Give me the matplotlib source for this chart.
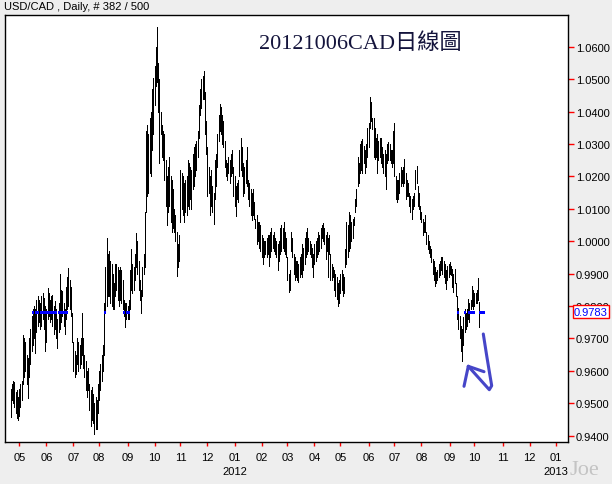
import numpy as np
import pandas as pd
import matplotlib
matplotlib.use("Agg")
import matplotlib.pyplot as plt
from matplotlib.lines import Line2D
from matplotlib.transforms import blended_transform_factory

# ---------------- data ----------------
title = "USD/CAD , Daily, # 382 / 500"
headline = "20121006CAD日線圖"
last_price = 0.9783
first_day = "2011-04-21"

bar_high = [
    .9544, .9560, .9570, .9565, .9535, .9540, .9520, .9545, .9560, .9570,
    .9710, .9700, .9690, .9650, .9640, .9700, .9730, .9770, .9790, .9800,
    .9790, .9820, .9830, .9820, .9810, .9830, .9840, .9825, .9800, .9790,
    .9855, .9840, .9820, .9830, .9835, .9800, .9815, .9790, .9760, .9810,
    .9900, .9850, .9845, .9810, .9790, .9860, .9890, .9916, .9880, .9860,
    .9780, .9690, .9660, .9650, .9700, .9690, .9680, .9700, .9780, .9700,
    .9650, .9630, .9600, .9610, .9560, .9540, .9550, .9530, .9500, .9520,
    .9510, .9560, .9600, .9620, .9650, .9680, .9810, .9920, 1.0010, .9960,
    .9970, .9940, .9930, .9900, .9870, .9930, .9930, .9920, .9910, .9920,
    .9910, .9880, .9820, .9810, .9810, .9800, .9820, .9910, .9975, .9930,
    .9920, .9960, 1.0025, 1.0000, .9940, .9880, .9850, .9920, .9960, 1.0090,
    1.0340, 1.0360, 1.0330, 1.0380, 1.0400, 1.0470, 1.0505, 1.0540, 1.0600, 1.0660,
    1.0550, 1.0500, 1.0400, 1.0360, 1.0340, 1.0330, 1.0250, 1.0200, 1.0230, 1.0260,
    1.0200, 1.0190, 1.0160, 1.0100, 1.0080, 1.0030, .9990, 1.0020, 1.0220, 1.0210,
    1.0200, 1.0180, 1.0190, 1.0200, 1.0250, 1.0240, 1.0230, 1.0220, 1.0270, 1.0290,
    1.0300, 1.0310, 1.0340, 1.0420, 1.0470, 1.0500, 1.0510, 1.0526, 1.0460, 1.0370,
    1.0290, 1.0230, 1.0200, 1.0220, 1.0170, 1.0150, 1.0250, 1.0270, 1.0330, 1.0390,
    1.0423, 1.0415, 1.0390, 1.0370, 1.0310, 1.0250, 1.0240, 1.0260, 1.0250, 1.0270,
    1.0280, 1.0230, 1.0200, 1.0170, 1.0180, 1.0190, 1.0280, 1.0320, 1.0290, 1.0240,
    1.0230, 1.0250, 1.0290, 1.0190, 1.0180, 1.0160, 1.0150, 1.0160, 1.0120, 1.0070,
    1.0080, 1.0060, 1.0060, 1.0050, 1.0020, 1.0010, 1.0000, 1.0000, 1.0010, 1.0020,
    1.0020, 1.0030, 1.0040, 1.0020, 1.0030, 1.0010, 1.0000, .9990, 1.0000, 1.0040,
    1.0050, 1.0040, 1.0060, 1.0030, 1.0010, .9950, .9900, .9910, 1.0030, 1.0010,
    .9960, .9950, .9940, .9940, .9930, .9950, .9960, .9990, .9980, 1.0010,
    1.0030, 1.0040, 1.0010, 1.0000, .9990, .9980, .9960, .9990, 1.0000, 1.0010,
    1.0030, 1.0020, 1.0040, 1.0050, 1.0056, 1.0040, 1.0020, 1.0030, 1.0010, 1.0020,
    .9960, .9930, .9920, .9910, .9900, .9890, .9870, .9880, .9900, .9910,
    .9900, .9890, .9975, 1.0060, 1.0050, 1.0090, 1.0080, 1.0060, 1.0070, 1.0075,
    1.0130, 1.0160, 1.0260, 1.0240, 1.0300, 1.0310, 1.0315, 1.0295, 1.0280, 1.0300,
    1.0350, 1.0366, 1.0446, 1.0430, 1.0380, 1.0380, 1.0350, 1.0320, 1.0330, 1.0310,
    1.0320, 1.0320, 1.0290, 1.0270, 1.0280, 1.0270, 1.0300, 1.0305, 1.0300, 1.0280,
    1.0280, 1.0340, 1.0366, 1.0200, 1.0190, 1.0190, 1.0210, 1.0230, 1.0220, 1.0230,
    1.0253, 1.0210, 1.0190, 1.0180, 1.0150, 1.0140, 1.0130, 1.0140, 1.0150, 1.0220,
    1.0233, 1.0170, 1.0150, 1.0110, 1.0090, 1.0070, 1.0060, 1.0080, 1.0030, 1.0020,
    1.0000, .9985, .9975, .9945, .9940, .9920, .9905, .9910, .9930, .9940,
    .9950, .9950, .9940, .9930, .9910, .9925, .9930, .9935, .9925, .9915,
    .9900, .9915, .9870, .9830, .9795, .9770, .9740, .9730, .9765, .9790,
    .9780, .9790, .9822, .9810, .9820, .9863, .9850, .9840, .9840, .9850,
    .9888, .9812,
]

bar_low = [
    .9457, .9510, .9500, .9490, .9470, .9455, .9448, .9460, .9490, .9510,
    .9560, .9580, .9600, .9560, .9515, .9580, .9620, .9660, .9680, .9700,
    .9655, .9720, .9740, .9750, .9730, .9740, .9760, .9730, .9660, .9690,
    .9760, .9770, .9750, .9760, .9740, .9715, .9730, .9700, .9670, .9720,
    .9730, .9750, .9770, .9740, .9715, .9760, .9790, .9800, .9790, .9770,
    .9690, .9600, .9580, .9590, .9620, .9600, .9610, .9620, .9650, .9610,
    .9580, .9540, .9520, .9540, .9480, .9430, .9450, .9440, .9405, .9420,
    .9420, .9470, .9510, .9540, .9570, .9600, .9650, .9780, .9800, .9830,
    .9830, .9810, .9800, .9790, .9790, .9830, .9850, .9820, .9800, .9820,
    .9810, .9790, .9770, .9735, .9760, .9760, .9760, .9790, .9850, .9840,
    .9850, .9880, .9920, .9900, .9850, .9820, .9780, .9830, .9900, .9920,
    1.0090, 1.0140, 1.0150, 1.0210, 1.0200, 1.0280, 1.0330, 1.0420, 1.0480, 1.0490,
    1.0400, 1.0240, 1.0330, 1.0260, 1.0250, 1.0190, 1.0110, 1.0050, 1.0090, 1.0110,
    1.0060, 1.0030, 1.0040, 1.0030, 1.0000, .9894, .9920, .9940, 1.0060, 1.0100,
    1.0080, 1.0060, 1.0090, 1.0080, 1.0110, 1.0100, 1.0130, 1.0100, 1.0160, 1.0170,
    1.0200, 1.0220, 1.0260, 1.0320, 1.0390, 1.0410, 1.0440, 1.0440, 1.0330, 1.0270,
    1.0140, 1.0150, 1.0080, 1.0110, 1.0090, 1.0053, 1.0130, 1.0170, 1.0230, 1.0310,
    1.0340, 1.0330, 1.0300, 1.0290, 1.0230, 1.0200, 1.0190, 1.0210, 1.0180, 1.0200,
    1.0210, 1.0140, 1.0110, 1.0078, 1.0130, 1.0120, 1.0200, 1.0220, 1.0200, 1.0140,
    1.0150, 1.0180, 1.0170, 1.0130, 1.0110, 1.0080, 1.0065, 1.0080, 1.0070, 1.0040,
    .9990, 1.0000, .9980, .9970, .9950, .9930, .9950, .9960, .9950, .9960,
    .9925, .9950, .9970, .9980, .9970, .9960, .9950, .9910, .9940, .9960,
    .9970, .9980, .9970, .9960, .9950, .9880, .9844, .9850, .9970, .9950,
    .9900, .9880, .9890, .9880, .9875, .9890, .9900, .9890, .9910, .9930,
    .9950, .9960, .9970, .9960, .9950, .9920, .9890, .9930, .9940, .9950,
    .9960, .9970, .9980, 1.0010, 1.0000, .9990, .9945, .9970, .9890, .9960,
    .9880, .9880, .9890, .9850, .9830, .9822, .9801, .9810, .9840, .9850,
    .9830, .9840, .9920, .9930, .9950, .9970, .9980, 1.0000, 1.0010, 1.0050,
    1.0090, 1.0110, 1.0170, 1.0180, 1.0210, 1.0220, 1.0210, 1.0240, 1.0210, 1.0230,
    1.0260, 1.0290, 1.0350, 1.0370, 1.0345, 1.0260, 1.0255, 1.0260, 1.0210, 1.0250,
    1.0260, 1.0240, 1.0230, 1.0210, 1.0200, 1.0161, 1.0240, 1.0250, 1.0250, 1.0240,
    1.0230, 1.0240, 1.0200, 1.0130, 1.0120, 1.0130, 1.0150, 1.0170, 1.0180, 1.0170,
    1.0180, 1.0130, 1.0140, 1.0140, 1.0110, 1.0090, 1.0068, 1.0100, 1.0110, 1.0160,
    1.0180, 1.0110, 1.0100, 1.0070, 1.0060, 1.0020, 1.0027, 1.0030, .9990, .9976,
    .9965, .9950, .9935, .9900, .9880, .9863, .9870, .9880, .9890, .9895,
    .9910, .9900, .9890, .9870, .9852, .9880, .9890, .9900, .9895, .9860,
    .9842, .9870, .9830, .9760, .9730, .9700, .9660, .9631, .9680, .9720,
    .9730, .9740, .9760, .9750, .9790, .9800, .9790, .9800, .9810, .9810,
    .9820, .9734,
]

price_ticks = [0.94, 0.95, 0.96, 0.97, 0.98, 0.99, 1.00, 1.01, 1.02, 1.03, 1.04, 1.05, 1.06]
month_labels = ['05', '06', '07', '08', '09', '10', '11', '12', '01', '02', '03',
                '04', '05', '06', '07', '08', '09', '10', '11', '12', '01']
month_starts = pd.date_range('2011-05-01', '2013-01-01', freq='MS')
year_marks = {'2012': '2012-01-01', '2013': '2013-01-01'}

# ---------------- figure ----------------
W, H = 612, 485
BG = '#eeeeee'
FONT = ['Liberation Sans', 'DejaVu Sans']
plt.rcParams['font.family'] = FONT

fig = plt.figure(figsize=(W / 100, H / 100), dpi=100, facecolor=BG)
ax_l, ax_r, ax_t, ax_b = 5, 568, 16, 443
ax = fig.add_axes([ax_l / W, 1 - ax_b / H, (ax_r - ax_l) / W, (ax_b - ax_t) / H])
ax.set_facecolor('white')

calendar = pd.bdate_range(first_day, '2013-02-28')
x = np.arange(len(bar_high))

ax.vlines(x, bar_low, bar_high, colors='black', linewidth=0.7,
          antialiased=False, zorder=2)

# blue dashed price line (visible where the bars cross it)
cross = [i for i in x if bar_low[i] <= last_price <= bar_high[i]]
for i in cross[::2]:
    ax.hlines(last_price, i - 0.5, i + 0.5, colors='#0000ff', linewidth=0.8,
              antialiased=False, zorder=3)
ax.hlines(last_price, x[-1] - 8, x[-1] - 4, colors='#0000ff', linewidth=0.8,
          antialiased=False, zorder=3)
ax.hlines(last_price, x[-1], x[-1] + 4, colors='#0000ff', linewidth=0.8,
          antialiased=False, zorder=3)

ax.set_xlim(-4.6, 453.1)
ax.set_ylim(0.93806, 1.0698)

# right price axis
ax.yaxis.tick_right()
ax.set_yticks(price_ticks)
ax.set_yticklabels([f"{v:.4f}" for v in price_ticks])
ax.tick_params(axis='y', length=4, width=1, color='red', labelcolor='black',
               labelsize=8, pad=1.5)

# bottom month axis
month_pos = [calendar.searchsorted(d) for d in month_starts]
ax.set_xticks(month_pos)
ax.set_xticklabels(month_labels)
ax.tick_params(axis='x', length=3, width=1, color='red', labelcolor='black',
               labelsize=8, pad=4)

for s in ax.spines.values():
    s.set_color('black')
    s.set_linewidth(1.0)

# year labels
trans_xy = blended_transform_factory(ax.transData, fig.transFigure)
for lab, d in year_marks.items():
    pos = calendar.searchsorted(pd.Timestamp(d))
    ax.text(pos, 1 - 472.5 / H, lab, transform=trans_xy, ha='center',
            va='center', fontsize=8, color='black', clip_on=False)

# title
fig.text(4 / W, 1 - 7.5 / H, title, ha='left', va='center', fontsize=8,
         color='black')

# headline
fig.text(259 / W, 1 - 44 / H, headline, ha='left', va='center', fontsize=16,
         color='#14143c', family=['Liberation Serif', 'Noto Sans CJK TC'])

# last price box on the right axis (covers part of the 0.9800 label, as in the original)
trans_fy = blended_transform_factory(fig.transFigure, ax.transData)
ax.text(574 / W, last_price, f"{last_price:.4f}", transform=trans_fy,
        ha='left', va='center', fontsize=8, color='#0000ff', clip_on=False,
        bbox=dict(boxstyle='square,pad=0.12', fc='white', ec='red', lw=1.0),
        zorder=10)

# hand-drawn blue arrow (figure pixel coords)
def px(pts):
    return [p[0] / W for p in pts], [1 - p[1] / H for p in pts]

arrow_color = '#4646c8'
stroke = [(483.3, 335), (486.7, 356.7), (490, 376.7), (491.7, 386.7),
          (489.3, 390.7), (468.3, 367.3)]
head1 = [(468.3, 367.3), (464, 387.3)]
head2 = [(468.3, 367.3), (484, 372.7)]
for pts in (stroke, head1, head2):
    xs, ys = px(pts)
    fig.add_artist(Line2D(xs, ys, color=arrow_color, lw=2.2,
                          solid_capstyle='round', solid_joinstyle='round'))

# watermark
fig.text(570 / W, 1 - 471 / H, 'Joe', ha='left', va='center', fontsize=16,
         color='#c4c4c4', family='Liberation Serif')

fig.savefig('out.png', dpi=100, facecolor=BG)
